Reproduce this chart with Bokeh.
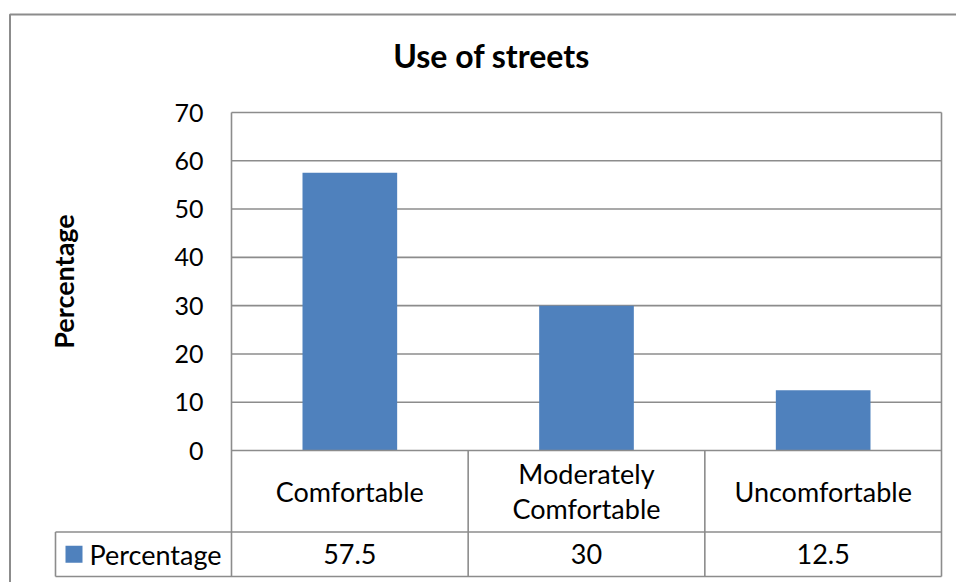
import math

from bokeh.core.properties import value
from bokeh.embed import file_html
from bokeh.models import FixedTicker, LinearAxis, Range1d
from bokeh.plotting import figure
from bokeh.resources import INLINE

# ---- data -------------------------------------------------------------
chart_title = "Use of streets"
y_axis_title = "Percentage"
series_name = "Percentage"
categories = ["Comfortable", "Moderately\nComfortable", "Uncomfortable"]
percentages = [57.5, 30, 12.5]
y_ticks = [0, 10, 20, 30, 40, 50, 60, 70]

# ---- layout (pixels of the 956 x 582 canvas) --------------------------
W, H = 956, 582
PLOT_LEFT, PLOT_RIGHT = 231, 941      # category axis span
PLOT_TOP, PLOT_BOTTOM = 112, 450      # y = 70 ... y = 0
ROW1_BOTTOM, ROW2_BOTTOM = 531.5, 576  # data-table rows under the plot
LEGEND_LEFT = 55
BORDER_LEFT, BORDER_TOP = 9.5, 14

n_cat = len(categories)
y_max = y_ticks[-1]
kx = (PLOT_RIGHT - PLOT_LEFT) / n_cat       # px per category
ky = (PLOT_BOTTOM - PLOT_TOP) / y_max       # px per percent


def dx(px):
    """canvas x pixel -> data x"""
    return (px - PLOT_LEFT) / kx


def dy(py):
    """canvas y pixel -> data y"""
    return (PLOT_BOTTOM - py) / ky


GRID = "#8c8c8c"
BAR = "#4f81bd"
FONT = value("Lato")

p = figure(
    width=W, height=H,
    x_range=Range1d(dx(0), dx(W)), y_range=Range1d(dy(H), dy(0)),
    output_backend="svg", toolbar_location=None,
    x_axis_location=None, y_axis_location=None,
    min_border=0, outline_line_color=None, title=None,
    background_fill_color="white", border_fill_color="white",
)
p.xgrid.visible = False
p.ygrid.visible = False

# value axis, pinned at the left edge of the category area
yaxis = LinearAxis(
    fixed_location=0,
    bounds=(dy(ROW2_BOTTOM), y_max),
    ticker=FixedTicker(ticks=y_ticks),
    axis_line_color=GRID, axis_line_width=1.6,
    major_tick_in=0, major_tick_out=0, minor_tick_in=0, minor_tick_out=0,
    major_label_standoff=28,
    major_label_text_font="Lato", major_label_text_font_size="25px",
    major_label_text_color="black",
)
p.add_layout(yaxis, "left")

# horizontal gridlines
grid_vals = y_ticks[1:]
p.segment(x0=[0] * len(grid_vals), x1=[n_cat] * len(grid_vals),
          y0=grid_vals, y1=grid_vals, line_color=GRID, line_width=1.6)

# bars
centers = [i + 0.5 for i in range(n_cat)]
p.vbar(x=centers, top=percentages, bottom=0, width=0.4,
       fill_color=BAR, line_color=None)

# data table grid
r1, r2, lg = dy(ROW1_BOTTOM), dy(ROW2_BOTTOM), dx(LEGEND_LEFT)
hx0 = [0, lg, lg]
hx1 = [n_cat, n_cat, n_cat]
hy = [0, r1, r2]
p.segment(x0=hx0, x1=hx1, y0=hy, y1=hy, line_color=GRID, line_width=1.6)
vx = list(range(1, n_cat + 1)) + [lg]
vy0 = [r2] * (n_cat + 1)
vy1 = [0] * (n_cat - 1) + [y_max, r1]
p.segment(x0=vx, x1=vx, y0=vy0, y1=vy1, line_color=GRID, line_width=1.6)

# chart-area border (left and top edges)
bl, bt = dx(BORDER_LEFT), dy(BORDER_TOP)
p.line(x=[bl, bl, dx(W + 5)], y=[dy(H + 5), bt, bt],
       line_color=GRID, line_width=2)

# table texts
p.text(x=centers, y=[r1 / 2] * n_cat, text=categories,
       text_align="center", text_baseline="middle",
       text_font=FONT, text_font_size="27px", text_color="black",
       text_line_height=1.05)
p.text(x=centers, y=[(r1 + r2) / 2] * n_cat,
       text=[f"{v:g}" for v in percentages],
       text_align="center", text_baseline="middle",
       text_font=FONT, text_font_size="27px", text_color="black")

# legend key in the table
p.scatter(x=[dx(73.5)], y=[(r1 + r2) / 2], marker="square", size=17,
          fill_color=BAR, line_color=None)
p.text(x=[dx(89)], y=[(r1 + r2) / 2], text=[series_name],
       text_align="left", text_baseline="middle",
       text_font=FONT, text_font_size="27px", text_color="black")

# titles
p.text(x=[dx(491)], y=[dy(55)], text=[chart_title],
       text_align="center", text_baseline="middle",
       text_font=FONT, text_font_size="32px", text_font_style="bold",
       text_color="black")
p.text(x=[dx(63)], y=[y_max / 2], text=[y_axis_title], angle=math.pi / 2,
       text_align="center", text_baseline="middle",
       text_font=FONT, text_font_size="27px", text_font_style="bold",
       text_color="black")

open("out.html", "w").write(file_html(p, INLINE))
